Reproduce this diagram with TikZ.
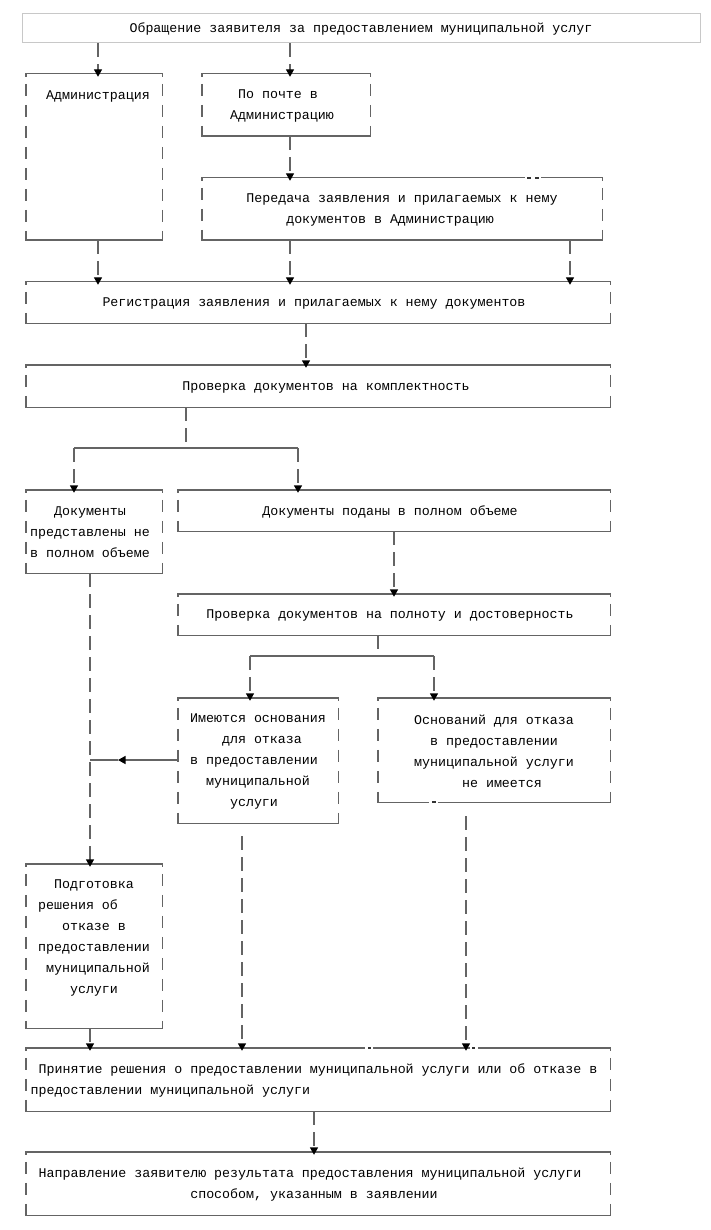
\documentclass[tikz,border=0pt]{standalone}
\usepackage{fontspec}
\newfontfamily\mono{Liberation Mono}
\usetikzlibrary{arrows.meta,fit}
\definecolor{ln}{HTML}{646464}
\definecolor{topc}{HTML}{C8C8C8}
\newcommand\pd[1]{\leavevmode\hbox to #1\dimexpr0.6em\relax{}}
\newcommand\frm[1]{%
  \draw[sl] ([yshift=-3pt]#1.north west) -- (#1.north west) -- (#1.north east) -- ([yshift=-3pt]#1.north east);
  \draw[sl] ([yshift=3pt]#1.south west) -- (#1.south west) -- (#1.south east) -- ([yshift=3pt]#1.south east);
  \draw[side] ([yshift=-10pt]#1.north west) -- (#1.south west);
  \draw[side] ([yshift=-10pt]#1.north east) -- (#1.south east);
}
\tikzset{
  bx/.style={inner sep=0pt},
  txt/.style={inner sep=0pt, font=\mono\fontsize{13.3pt}{21pt}\selectfont, align=center, text=black, yshift=-1pt},
  tx/.style={label={[txt]center:{#1}}},
  sl/.style={draw=ln, line width=1.4pt},
  side/.style={draw=ln, line width=1.4pt, dash pattern=on 12pt off 9pt},
  dl/.style={draw=ln, line width=1.4pt, dash pattern=on 14pt off 7pt},
  tip/.style={-{Triangle[width=8pt,length=7.5pt,color=black,fill=black]}},
  ar/.style={dl, tip, shorten >=-3pt},
}
\begin{document}
\begin{tikzpicture}[x=1pt,y=-1pt]
\fill[white] (0,0) rectangle (710,1230);
% boxes
\node[bx, fit={(22,14)(700,43)}, draw=topc, line width=1pt, tx={Обращение заявителя за предоставлением муниципальной услуг}] (top) {};
\node[bx, fit={(26,74)(162,240)}, tx={\pd1Администрация\\\pd1\\\pd1\\\pd1\\\pd1\\\pd1\\\pd1}] (adm) {};
\node[bx, fit={(202,74)(370,136)}, tx={По почте в\pd2\\Администрацию\pd1}] (post) {};
\node[bx, fit={(202,178)(602,240)}, tx={Передача заявления и прилагаемых к нему\\документов в Администрацию\pd3}] (ped) {};
\node[bx, fit={(26,282)(610,323)}, tx={Регистрация заявления и прилагаемых к нему документов\pd1}] (reg) {};
\node[bx, fit={(26,365)(610,407)}, tx={\pd2Проверка документов на комплектность}] (chk) {};
\node[bx, fit={(26,490)(162,573)}, tx={Документы\pd1\\представлены не\pd1\\в полном объеме\pd1}] (nf) {};
\node[bx, fit={(178,490)(610,531)}, tx={Документы поданы в полном объеме\pd1}] (full) {};
\node[bx, fit={(178,594)(610,635)}, tx={Проверка документов на полноту и достоверность\pd1}] (pol) {};
\node[bx, fit={(178,698)(338,823)}, tx={Имеются основания\\\pd1для отказа\\в предоставлении\pd1\\муниципальной\\услуги\pd1}] (yes) {};
\node[bx, fit={(378,698)(610,802)}, tx={Оснований для отказа\\в предоставлении\\муниципальной услуги\\\pd2не имеется}] (no) {};
\node[bx, fit={(26,864)(162,1028)}, tx={Подготовка\\решения об\pd4\\отказе в\\предоставлении\\\pd1муниципальной\\услуги\\\pd1}] (prep) {};
\node[bx, fit={(26,1048)(610,1111)}, tx={Принятие решения о предоставлении муниципальной услуги или об отказе в\\предоставлении муниципальной услуги\pd{37}}] (dec) {};
\node[bx, fit={(26,1152)(610,1215)}, tx={Направление заявителю результата предоставления муниципальной услуги\pd2\\способом, указанным в заявлении\pd1}] (send) {};
\frm{adm}\frm{post}\frm{ped}\frm{reg}\frm{chk}\frm{nf}\frm{full}\frm{pol}\frm{yes}\frm{no}\frm{prep}\frm{dec}\frm{send}
% helper coordinates
\coordinate (c98) at (98,0);
\coordinate (c290) at (290,0);
\coordinate (c570) at (570,0);
\coordinate (c306) at (306,0);
\coordinate (c186) at (186,448);
\coordinate (c74) at (74,448);
\coordinate (c298) at (298,448);
\coordinate (c394) at (394,0);
\coordinate (c378) at (378,656);
\coordinate (c250) at (250,656);
\coordinate (c434) at (434,656);
\coordinate (c90) at (90,0);
\coordinate (c118) at (118,760);
\coordinate (c242) at (242,0);
\coordinate (c466) at (466,0);
\coordinate (c314) at (314,0);
\coordinate (ys) at ([yshift=-13pt]yes.south);
\coordinate (ns) at ([yshift=-14pt]no.south);
% connectors
\draw[ar] (top.south -| c98) -- (adm.north -| c98);
\draw[ar] (top.south -| c290) -- (post.north -| c290);
\draw[ar] (post.south -| c290) -- (ped.north -| c290);
\draw[ar] (adm.south -| c98) -- (reg.north -| c98);
\draw[ar] (ped.south -| c290) -- (reg.north -| c290);
\draw[ar] (ped.south -| c570) -- (reg.north -| c570);
\draw[ar] (reg.south -| c306) -- (chk.north -| c306);
\draw[dl] (chk.south -| c186) -- (c186);
\draw[sl] (c74) -- (c298);
\draw[ar] (c74) -- (nf.north -| c74);
\draw[ar] (c298) -- (full.north -| c298);
\draw[ar] (full.south -| c394) -- (pol.north -| c394);
\draw[dl] (pol.south -| c378) -- (c378);
\draw[sl] (c250) -- (c434);
\draw[ar] (c250) -- (yes.north -| c250);
\draw[ar] (c434) -- (no.north -| c434);
\draw[sl, tip] (yes.west |- c118) -- (c118);
\draw[sl] (c118) -- (c118 -| c90);
\draw[ar] (nf.south -| c90) -- (prep.north -| c90);
\draw[ar] (prep.south -| c90) -- (dec.north -| c90);
\draw[ar] (ys -| c242) -- (dec.north -| c242);
\draw[ar] (ns -| c466) -- (dec.north -| c466);
\draw[ar] (dec.south -| c314) -- (send.north -| c314);
% small line artefacts
\draw[white, line width=2.2pt] (525,178) -- (541,178) (429,802) -- (438,802) (365,1048) -- (373,1048) (470,1048) -- (478,1048);
\draw[black!80, line width=1.4pt] (527,178) -- (531,178) (535,178) -- (539,178) (432,802) -- (436,802) (368,1048) -- (371,1048) (472,1048) -- (475,1048);
\end{tikzpicture}
\end{document}
